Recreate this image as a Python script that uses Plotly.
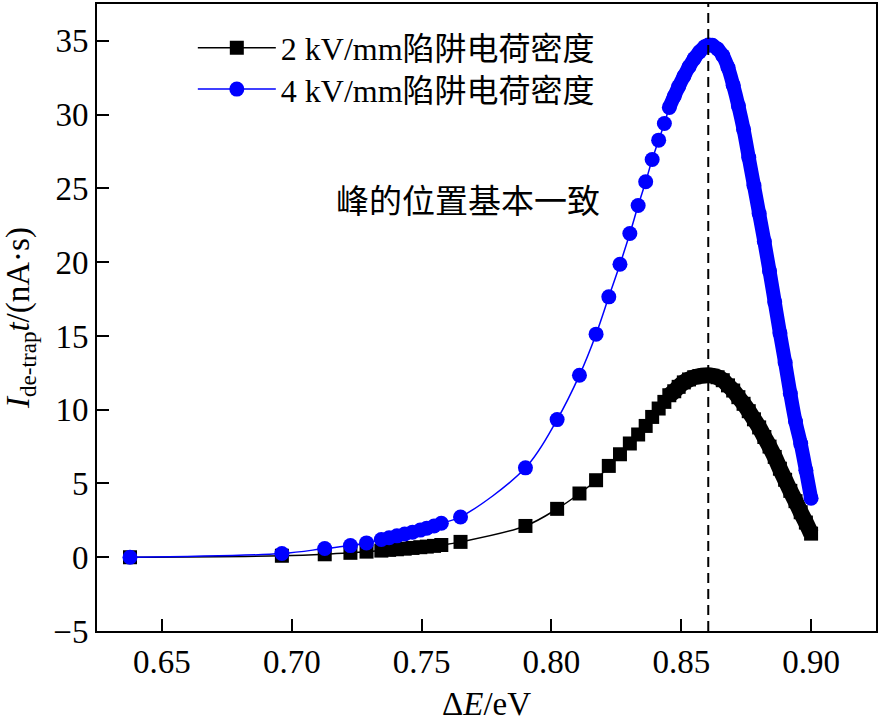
import plotly.graph_objects as go

# ---- data ----
delta_e = [0.6377, 0.6962, 0.7127, 0.7226, 0.7288, 0.7345, 0.7375, 0.7405, 0.7435, 0.7465,
           0.7495, 0.7520, 0.7548, 0.7576, 0.7650, 0.7900, 0.8022, 0.8108, 0.8172, 0.8221,
           0.8264, 0.8302, 0.8334, 0.8363, 0.8388, 0.8413, 0.8435, 0.8454, 0.8473, 0.8490,
           0.8510, 0.8530, 0.8550, 0.8570, 0.8590, 0.8604, 0.8620, 0.8640, 0.8660, 0.8680,
           0.8700, 0.8720, 0.8740, 0.8760, 0.8780, 0.8800, 0.8820, 0.8840, 0.8860, 0.8880,
           0.8900, 0.8920, 0.8940, 0.8960, 0.8980, 0.9000]

charge_2kv = [0.0, 0.1, 0.2, 0.3, 0.38, 0.45, 0.5, 0.54, 0.58, 0.63,
              0.68, 0.72, 0.77, 0.83, 1.04, 2.12, 3.28, 4.32, 5.22, 6.19,
              6.98, 7.71, 8.32, 8.90, 9.51, 10.08, 10.53, 10.98, 11.25, 11.55,
              11.85, 12.05, 12.2, 12.28, 12.32, 12.33, 12.3, 12.2, 12.0, 11.65,
              11.3, 10.85, 10.4, 9.9, 9.35, 8.8, 8.15, 7.5, 6.8, 6.0,
              5.25, 4.5, 3.8, 3.05, 2.35, 1.6]

charge_4kv = [0.0, 0.25, 0.59, 0.79, 0.97, 1.2, 1.32, 1.45, 1.57, 1.7,
              1.84, 1.97, 2.12, 2.3, 2.73, 6.06, 9.33, 12.34, 15.12, 17.65,
              19.86, 21.94, 23.84, 25.45, 26.96, 28.27, 29.40, 30.49, 31.25, 31.9,
              32.6, 33.25, 33.8, 34.25, 34.6, 34.72, 34.7, 34.45, 34.0, 33.2,
              32.0, 30.6, 29.0, 27.1, 25.2, 23.3, 21.4, 19.4, 17.3, 15.2,
              13.2, 11.1, 9.2, 7.7, 5.9, 4.0]

series_names = ["2 kV/mm陷阱电荷密度", "4 kV/mm陷阱电荷密度"]
peak_position = 0.8604
annotation_text = "峰的位置基本一致"
x_ticks = [0.65, 0.70, 0.75, 0.80, 0.85, 0.90]
y_ticks = [-5, 0, 5, 10, 15, 20, 25, 30, 35]

FONT = "Liberation Serif, Times New Roman, Noto Sans CJK SC"
dense_start = 27  # index where the recorded points merge into a continuous band

fig = go.Figure()

styles = [
    dict(color="black", symbol="square", size=14, band=16, legend="legend"),
    dict(color="#0000ff", symbol="circle", size=15, band=14, legend="legend2"),
]

for name, vals, st in zip(series_names, [charge_2kv, charge_4kv], styles):
    fig.add_trace(go.Scatter(
        x=delta_e[dense_start:], y=vals[dense_start:], mode="lines",
        line=dict(color=st["color"], width=st["band"], shape="spline"),
        showlegend=False, hoverinfo="skip"))
    fig.add_trace(go.Scatter(
        x=delta_e, y=vals, mode="lines+markers", name=name, legend=st["legend"],
        line=dict(color=st["color"], width=1.5, shape="spline"),
        marker=dict(color=st["color"], symbol=st["symbol"], size=st["size"],
                    line=dict(width=0))))

fig.add_shape(type="line", xref="x", yref="paper", x0=peak_position, x1=peak_position,
              y0=0, y1=1, line=dict(color="black", width=2, dash="10px,6px"))

fig.add_annotation(x=0.768, y=24.1, xref="x", yref="y", text=annotation_text,
                   showarrow=False, font=dict(family=FONT, size=33, color="black"))

axis_common = dict(
    showline=True, linecolor="black", linewidth=2, mirror=True,
    ticks="inside", ticklen=12, tickwidth=2, tickcolor="black",
    showgrid=False, zeroline=False, automargin=False,
    tickfont=dict(family=FONT, size=33, color="black"),
)

fig.update_xaxes(range=[0.625, 0.925], tickvals=x_ticks,
                 ticktext=[f"{v:.2f}" for v in x_ticks],
                 title=dict(text="Δ<i>E</i>/eV", font=dict(family=FONT, size=33, color="black"),
                            standoff=16),
                 **axis_common)
fig.update_yaxes(range=[-5, 37.5], tickvals=y_ticks,
                 title=dict(text="<i>I</i><sub>de-trap</sub><i>t</i>/(nA·s)",
                            font=dict(family=FONT, size=33, color="black"), standoff=14),
                 **axis_common)

legend_common = dict(xanchor="left", yanchor="middle", bgcolor="rgba(0,0,0,0)",
                     borderwidth=0, font=dict(family=FONT, size=32, color="black"),
                     itemwidth=78)

fig.update_layout(
    width=879, height=722,
    margin=dict(l=97, r=3, t=4, b=91),
    paper_bgcolor="white", plot_bgcolor="white",
    font=dict(family=FONT, size=33, color="black"),
    showlegend=True,
    legend=dict(x=0.123, y=0.930, **legend_common),
    legend2=dict(x=0.123, y=0.864, **legend_common),
)

fig.write_html("out.html", config={"displayModeBar": False},
               post_script="document.body.style.margin='0px';")
